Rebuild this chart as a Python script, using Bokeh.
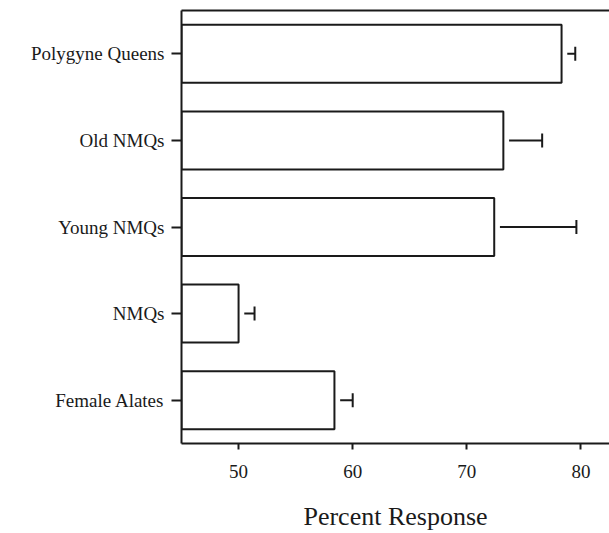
from bokeh.plotting import figure
from bokeh.models import ColumnDataSource, FactorRange, Range1d, Whisker, TeeHead, LinearAxis, FixedTicker
from bokeh.embed import file_html
from bokeh.resources import INLINE

categories = ["Female Alates", "NMQs", "Young NMQs", "Old NMQs", "Polygyne Queens"]
means = [58.4, 50.0, 72.4, 73.2, 78.3]
errors = [1.6, 1.4, 7.2, 3.4, 1.2]
x_ticks = [50, 60, 70, 80]

gap = 0.5
src = ColumnDataSource(dict(
    cat=categories,
    mean=means,
    lower=[m + gap for m in means],
    upper=[m + e for m, e in zip(means, errors)],
))

FONT = "Liberation Serif"
INK = "#1a1a1a"

p = figure(width=609, height=533, frame_width=428, frame_height=433,
           output_backend="svg", toolbar_location=None,
           y_range=FactorRange(*categories, range_padding=0),
           x_range=Range1d(45, 82.5),
           min_border_left=181, min_border_right=0, min_border_top=10, min_border_bottom=90)
p.outline_line_color = None
p.background_fill_color = "white"
p.border_fill_color = "white"
p.xgrid.visible = False
p.ygrid.visible = False

p.hbar(y="cat", left=45, right="mean", height=0.67, source=src,
       fill_color="white", line_color=INK, line_width=2)

w = Whisker(base="cat", lower="lower", upper="upper", dimension="width", source=src,
            line_color=INK, line_width=2,
            upper_head=TeeHead(size=14, line_color=INK, line_width=2),
            lower_head=None)
p.add_layout(w)

xa = p.xaxis[0]
xa.ticker = FixedTicker(ticks=x_ticks)
xa.axis_line_width = 2
xa.axis_line_color = INK
xa.major_tick_line_color = INK
xa.major_tick_line_width = 2
xa.major_tick_in = 0
xa.major_tick_out = 6
xa.minor_tick_line_color = None
xa.major_label_text_font = FONT
xa.major_label_text_font_size = "19px"
xa.major_label_text_color = INK
xa.major_label_standoff = 15
xa.axis_label = "Percent Response"
xa.axis_label_text_font = FONT
xa.axis_label_text_font_size = "26px"
xa.axis_label_text_font_style = "normal"
xa.axis_label_text_color = INK
xa.axis_label_standoff = 21

ya = p.yaxis[0]
ya.axis_line_width = 2
ya.axis_line_color = INK
ya.major_tick_line_color = INK
ya.major_tick_line_width = 2
ya.major_tick_in = 0
ya.major_tick_out = 10
ya.major_label_text_font = FONT
ya.major_label_text_font_size = "19px"
ya.major_label_text_color = INK
ya.major_label_standoff = 7

top = LinearAxis(ticker=FixedTicker(ticks=[]), axis_line_width=2, axis_line_color=INK,
                 major_tick_line_color=None, minor_tick_line_color=None,
                 major_label_standoff=0, major_tick_out=0, major_tick_in=0)
p.add_layout(top, "above")

open("out.html", "w").write(file_html(p, INLINE))
